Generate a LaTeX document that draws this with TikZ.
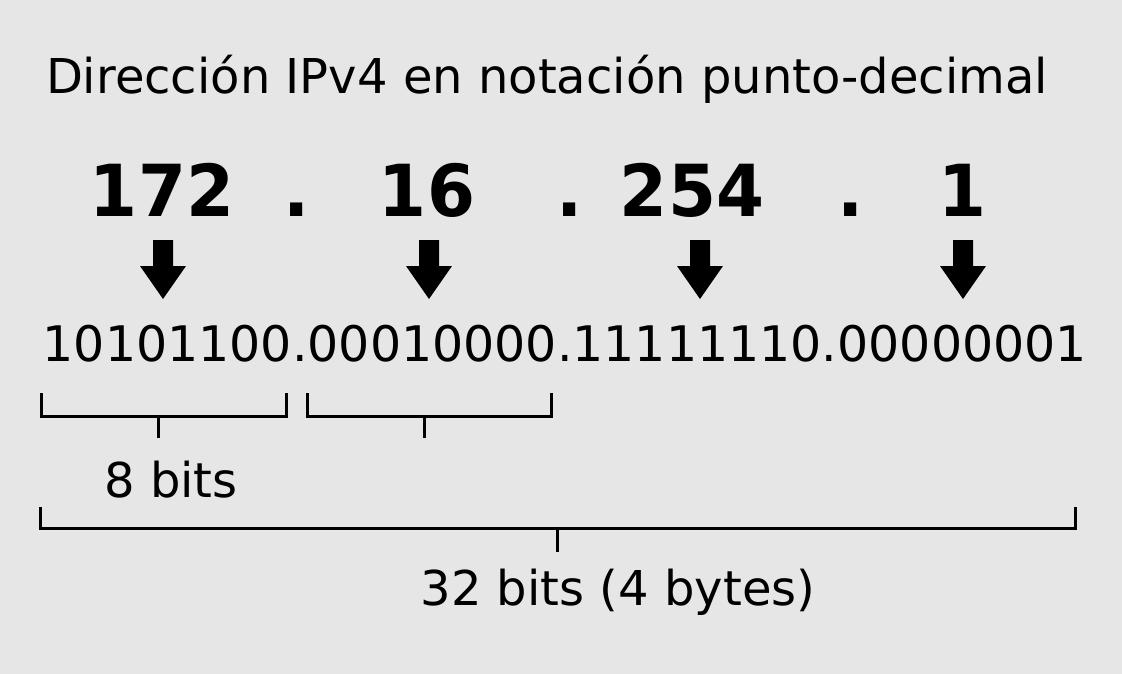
\documentclass[tikz,border=0pt]{standalone}
\usepackage{fontspec}
\setmainfont{DejaVu Sans}
\definecolor{backgray}{RGB}{230,230,230}
\tikzset{
    txt/.style={inner sep=0pt, anchor=base},
    bracket/.style={line width=3pt},
}
\begin{document}
\begin{tikzpicture}[x=1pt, y=-1pt]

    % Background
    \fill[backgray] (0,0) rectangle (1122,674);
    \useasboundingbox (0,0) rectangle (1122,674);

    % Title
    \node[txt, font=\fontsize{48}{58}\selectfont] (title) at (547,94) {Dirección IPv4 en notación punto-decimal};

    % Decimal octets
    \begin{scope}[every node/.style={txt, yscale=1.04, font=\fontsize{69}{83}\selectfont\bfseries}]
        \node (n1) at (162,216) {172};
        \node (d1) at (297,216) {.};
        \node (n2) at (427,216) {16};
        \node (d2) at (570,216) {.};
        \node (n3) at (692,216) {254};
        \node (d3) at (851,216) {.};
        \node (n4) at (962,216) {1};
    \end{scope}

    % Arrows
    \foreach \x in {163,429,700,963}
        \fill (\x-10,240) -- (\x+10,240) -- (\x+10,266) -- (\x+23,266)
            -- (\x,299) -- (\x-23,266) -- (\x-10,266) -- cycle;

    % Binary address
    \node[txt, font=\fontsize{49}{59}\selectfont] (bin) at (565,361) {10101100.00010000.11111110.00000001};

    % Octet brackets
    \draw[bracket] (41,393) -- (41,416) -- (286,416) -- (286,393);
    \draw[bracket] (158,416) -- (158,438);
    \draw[bracket] (307,393) -- (307,416) -- (551,416) -- (551,393);
    \draw[bracket] (424,416) -- (424,438);
    \node[txt, font=\fontsize{48}{58}\selectfont] (byte) at (171,497) {8 bits};

    % Whole address bracket
    \draw[bracket] (40,507) -- (40,528) -- (1075,528) -- (1075,507);
    \draw[bracket] (557,528) -- (557,552);
    \node[txt, font=\fontsize{48}{58}\selectfont] (total) at (618,605) {32 bits (4 bytes)};

\end{tikzpicture}
\end{document}
